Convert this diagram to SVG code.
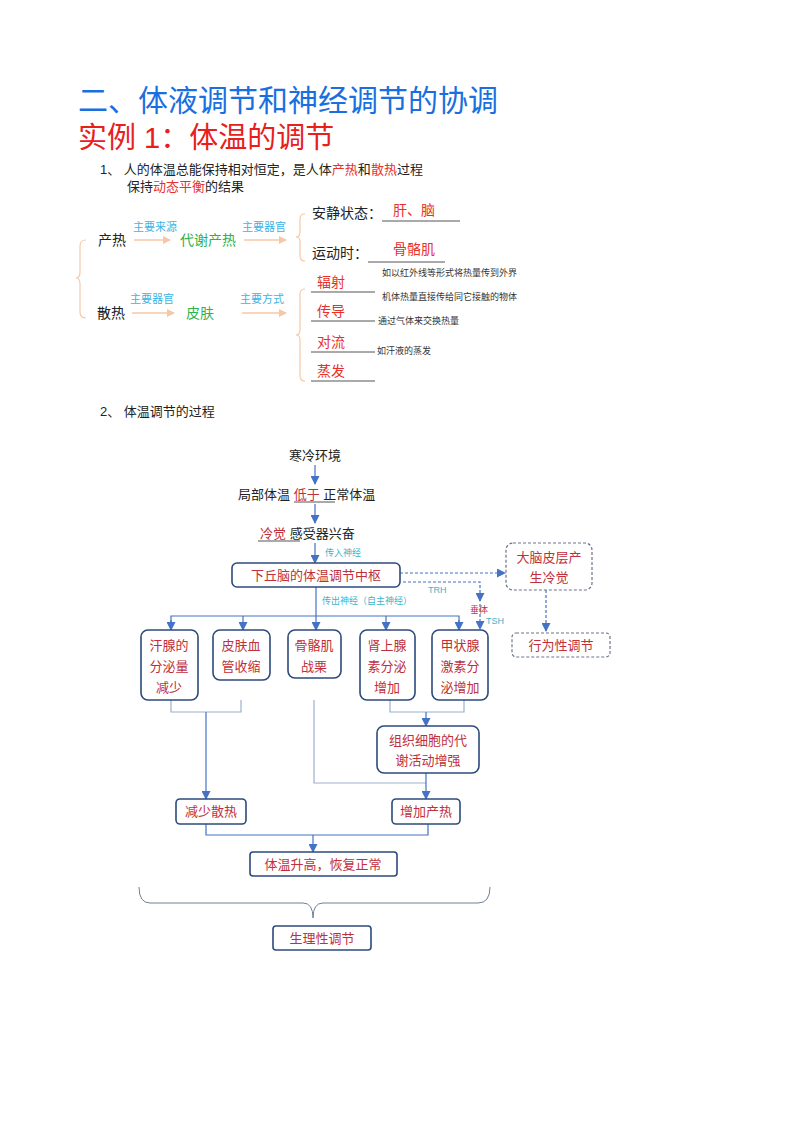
<svg xmlns="http://www.w3.org/2000/svg" width="800" height="1132" viewBox="0 0 800 1132">
<style>
text{font-family:"Liberation Sans","Noto Sans CJK SC",sans-serif}
.h1{font-size:30px;fill:#1a6fe0}
.h2{font-size:29px;fill:#e8201c}
.p{font-size:13px;fill:#222}
.r{fill:#e8302a}
.cy{font-size:11px;fill:#3cb4e6}
.g{font-size:14px;fill:#2cb24f}
.n{font-size:9px;fill:#333}
.b{font-size:14px;fill:#222}
.rb{font-size:14px;fill:#e8302a}
.ul{stroke:#555;stroke-width:1}
.br{fill:none;stroke:#f5c9a8;stroke-width:1.2}
.oa{stroke:#f7c7a4;stroke-width:1.5}
.box{fill:#fff;stroke:#2c4a7a;stroke-width:1.6}
.dbox{fill:#fff;stroke:#6a7488;stroke-width:1.2;stroke-dasharray:3 2}
.fl{fill:none;stroke:#4472c4;stroke-width:1.2}
.gl{fill:none;stroke:#9db0cc;stroke-width:1.2}
.dl{fill:none;stroke:#4472c4;stroke-width:1.2;stroke-dasharray:3 2}
.bt{font-size:13px;fill:#c0303a;text-anchor:middle}
.sm{font-size:9px;fill:#3cb4c8}
</style>
<defs>
<marker id="oa" markerWidth="8" markerHeight="8" refX="7" refY="4" orient="auto" markerUnits="userSpaceOnUse"><path d="M0,0 L8,4 L0,8Z" fill="#f7c7a4"/></marker>
<marker id="ba" markerWidth="9" markerHeight="9" refX="8" refY="4.5" orient="auto" markerUnits="userSpaceOnUse"><path d="M0,0 L9,4.5 L0,9Z" fill="#4472c4"/></marker>
</defs>
<text class="h1" x="78" y="111">二、体液调节和神经调节的协调</text>
<text class="h2" x="78" y="148">实例 1：体温的调节</text>
<text class="p" x="100" y="174">1、  人的体温总能保持相对恒定，是人体<tspan class="r">产热</tspan>和<tspan class="r">散热</tspan>过程</text>
<text class="p" x="127" y="191">保持<tspan class="r">动态平衡</tspan>的结果</text>

<g id="top">
<path class="br" d="M86,240 Q80,240 80,246 L80,272 Q80,278 76,278 Q80,278 80,284 L80,312 Q80,318 86,318"/>
<text class="b" x="98" y="245">产热</text>
<text class="cy" x="133" y="231">主要来源</text>
<line class="oa" x1="134" y1="240" x2="170" y2="240" marker-end="url(#oa)"/>
<text class="g" x="180" y="245">代谢产热</text>
<text class="cy" x="242" y="231">主要器官</text>
<line class="oa" x1="244" y1="240" x2="286" y2="240" marker-end="url(#oa)"/>
<path class="br" d="M305,214 Q300,214 300,219 L300,232 Q300,237 296,237 Q300,237 300,242 L300,256 Q300,261 305,261"/>
<text class="b" x="312" y="218">安静状态：</text>
<text class="rb" x="393" y="215">肝、脑</text>
<line class="ul" x1="382" y1="221" x2="460" y2="221"/>
<text class="b" x="312" y="258">运动时：</text>
<text class="rb" x="393" y="254">骨骼肌</text>
<line class="ul" x1="368" y1="262" x2="445" y2="262"/>
<text class="b" x="97" y="318">散热</text>
<text class="cy" x="130" y="303">主要器官</text>
<line class="oa" x1="132" y1="313" x2="174" y2="313" marker-end="url(#oa)"/>
<text class="g" x="186" y="318">皮肤</text>
<text class="cy" x="240" y="303">主要方式</text>
<line class="oa" x1="242" y1="313" x2="286" y2="313" marker-end="url(#oa)"/>
<path class="br" d="M305,289 Q300,289 300,294 L300,330 Q300,335 296,335 Q300,335 300,340 L300,376 Q300,381 305,381"/>
<text class="rb" x="317" y="287">辐射</text><line class="ul" x1="311" y1="292" x2="375" y2="292"/>
<text class="rb" x="317" y="316">传导</text><line class="ul" x1="311" y1="321" x2="375" y2="321"/>
<text class="rb" x="317" y="347">对流</text><line class="ul" x1="311" y1="352" x2="375" y2="352"/>
<text class="rb" x="317" y="376">蒸发</text><line class="ul" x1="311" y1="381" x2="375" y2="381"/>
<text class="n" x="382" y="276">如以红外线等形式将热量传到外界</text>
<text class="n" x="382" y="300">机体热量直接传给同它接触的物体</text>
<text class="n" x="378" y="324">通过气体来交换热量</text>
<text class="n" x="377" y="354">如汗液的蒸发</text>
</g>

<text class="p" x="100" y="416">2、  体温调节的过程</text>

<g id="connectors">
<line class="fl" x1="315" y1="465" x2="315" y2="484" marker-end="url(#ba)"/>
<line class="fl" x1="315" y1="504" x2="315" y2="523" marker-end="url(#ba)"/>
<line class="fl" x1="315" y1="543" x2="315" y2="563" marker-end="url(#ba)"/>
<line class="dl" x1="400" y1="573" x2="505" y2="573" marker-end="url(#ba)"/>
<line class="dl" x1="546" y1="590" x2="546" y2="631" marker-end="url(#ba)"/>
<polyline class="dl" points="403,582 480,582 480,601" marker-end="url(#ba)"/>
<line class="dl" x1="480" y1="604" x2="480" y2="629" marker-end="url(#ba)"/>
<polyline class="fl" points="316,587 316,616"/>
<polyline class="fl" points="171,629 171,616 459,616 459,629"/>
<line class="fl" x1="171" y1="620" x2="171" y2="630" marker-end="url(#ba)"/>
<line class="fl" x1="243" y1="616" x2="243" y2="630" marker-end="url(#ba)"/>
<line class="fl" x1="316" y1="616" x2="316" y2="630" marker-end="url(#ba)"/>
<line class="fl" x1="386" y1="616" x2="386" y2="630" marker-end="url(#ba)"/>
<line class="fl" x1="459" y1="620" x2="459" y2="630" marker-end="url(#ba)"/>
<polyline class="gl" points="171,700 171,712 241,712 241,700"/>
<line class="fl" x1="206" y1="712" x2="206" y2="799" marker-end="url(#ba)"/>
<polyline class="gl" points="314,700 314,783 426,783"/>
<polyline class="gl" points="390,700 390,712 464,712 464,700"/>
<line class="fl" x1="426" y1="712" x2="426" y2="726" marker-end="url(#ba)"/>
<line class="fl" x1="426" y1="773" x2="426" y2="799" marker-end="url(#ba)"/>
<polyline class="fl" points="206,824 206,835 428,835 428,824"/>
<line class="fl" x1="313" y1="835" x2="313" y2="852" marker-end="url(#ba)"/>
<path fill="none" stroke="#6f7f99" stroke-width="1" d="M139,887 Q139,903 150,903 L303,903 Q313,903 313,918 Q313,903 323,903 L478,903 Q490,903 490,887"/>
</g>
<text class="sm" x="325" y="556">传入神经</text>
<text class="sm" x="322" y="604">传出神经（自主神经）</text>
<text class="sm" x="428" y="593">TRH</text>
<text x="470" y="613" style="font-size:9px;fill:#c0303a">垂体</text>
<text class="sm" x="486" y="624">TSH</text>

<g id="n1"><text x="315" y="460" style="font-size:13px;fill:#222;text-anchor:middle">寒冷环境</text></g>
<g id="n2"><text class="p" x="238" y="499">局部体温<tspan fill="#c0303a"> 低于 </tspan>正常体温</text><line class="ul" x1="294" y1="502" x2="335" y2="502"/></g>
<g id="n3"><text class="p" x="260" y="538"><tspan fill="#c0303a">冷觉 </tspan> 感受器兴奋</text><line class="ul" x1="258" y1="541" x2="300" y2="541"/></g>
<g id="n4"><rect class="box" x="232" y="563" width="168" height="24" rx="5"/><text class="bt" x="316" y="580">下丘脑的体温调节中枢</text></g>
<g id="n5"><rect class="dbox" x="506" y="543" width="86" height="47" rx="7"/><text class="bt" x="549" y="562">大脑皮层产</text><text class="bt" x="549" y="582">生冷觉</text></g>
<g id="n6"><rect class="dbox" x="512" y="633" width="98" height="24" rx="4"/><text class="bt" x="561" y="650">行为性调节</text></g>
<g id="n7"><rect class="box" x="141" y="630" width="57" height="70" rx="7"/><text class="bt" x="169" y="650">汗腺的</text><text class="bt" x="169" y="671">分泌量</text><text class="bt" x="169" y="692">减少</text></g>
<g id="n8"><rect class="box" x="213" y="630" width="57" height="50" rx="7"/><text class="bt" x="241" y="650">皮肤血</text><text class="bt" x="241" y="671">管收缩</text></g>
<g id="n9"><rect class="box" x="288" y="630" width="53" height="48" rx="7"/><text class="bt" x="314" y="650">骨骼肌</text><text class="bt" x="314" y="671">战栗</text></g>
<g id="n10"><rect class="box" x="360" y="630" width="55" height="70" rx="7"/><text class="bt" x="387" y="650">肾上腺</text><text class="bt" x="387" y="671">素分泌</text><text class="bt" x="387" y="692">增加</text></g>
<g id="n11"><rect class="box" x="432" y="630" width="56" height="70" rx="7"/><text class="bt" x="460" y="650">甲状腺</text><text class="bt" x="460" y="671">激素分</text><text class="bt" x="460" y="692">泌增加</text></g>
<g id="n12"><rect class="box" x="377" y="726" width="102" height="47" rx="7"/><text class="bt" x="428" y="745">组织细胞的代</text><text class="bt" x="428" y="765">谢活动增强</text></g>
<g id="n13"><rect class="box" x="176" y="799" width="70" height="25" rx="4"/><text class="bt" x="211" y="816">减少散热</text></g>
<g id="n14"><rect class="box" x="392" y="799" width="68" height="25" rx="4"/><text class="bt" x="426" y="816">增加产热</text></g>
<g id="n15"><rect class="box" x="250" y="852" width="147" height="24" rx="3"/><text class="bt" x="323" y="869">体温升高，恢复正常</text></g>
<g id="n16"><rect class="box" x="273" y="926" width="98" height="24" rx="3"/><text class="bt" x="322" y="943">生理性调节</text></g>
</svg>
